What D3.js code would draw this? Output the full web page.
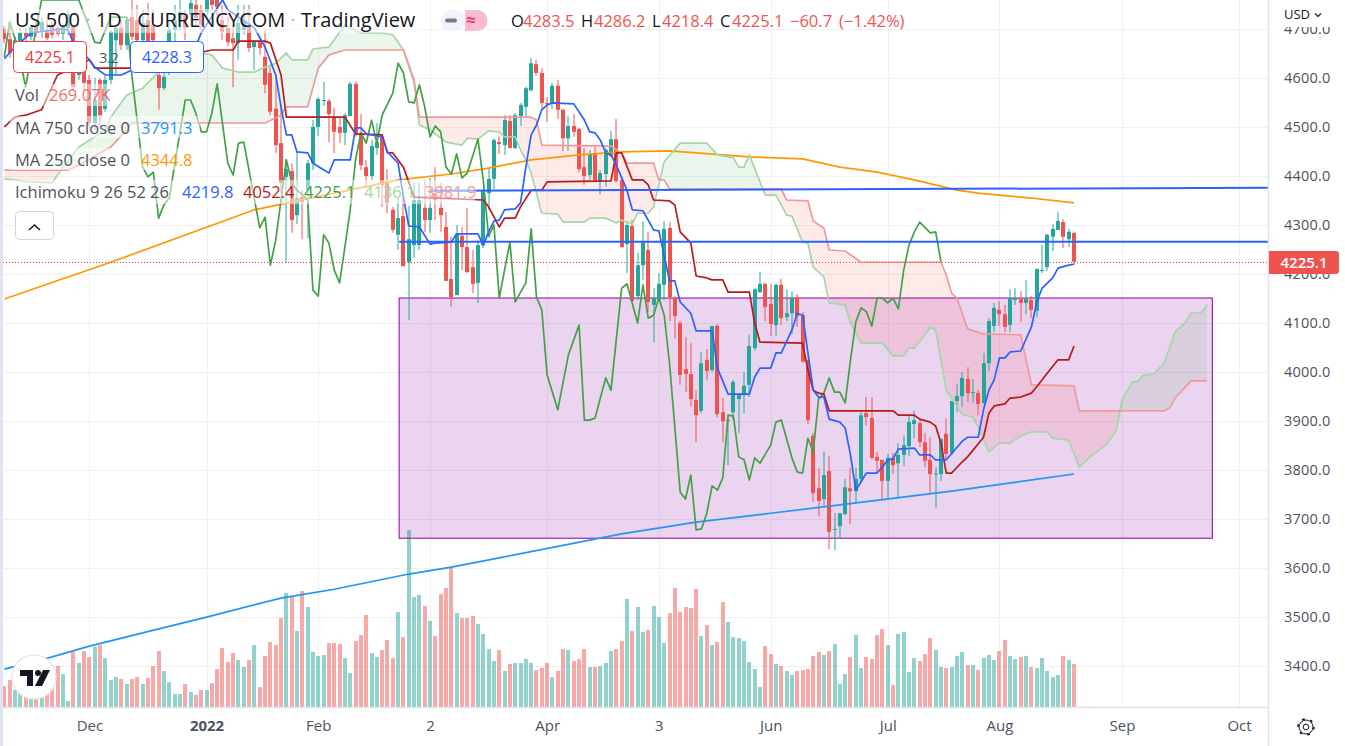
<!DOCTYPE html>
<html><head><meta charset="utf-8">
<script src="https://cdn.jsdelivr.net/npm/d3@7/dist/d3.min.js"></script>
<style>
html,body{margin:0;padding:0;background:#fff;overflow:hidden}
svg{display:block}
text{font-family:"Open Sans","Noto Sans",sans-serif}
</style></head><body>
<svg id="c" width="1345" height="746"></svg>
<script>
// ---- values ----
const candles=[
[4700,4706,4671,4679],[4679,4708,4641,4651],[4665,4684,4657,4677],[4673,4702,4665,4692],[4692,4702,4667,4684],[4684,4708,4677,4704],[4704,4714,4684,4692],[4694,4722,4681,4714],[4698,4718,4677,4681],[4708,4714,4681,4688],
[4702,4708,4686,4690],[4690,4708,4677,4704],[4702,4739,4688,4730],[4704,4708,4575,4582],[4606,4657,4596,4637],[4630,4647,4575,4590],[4596,4606,4500,4508],[4508,4600,4494,4555],[4596,4600,4504,4524],[4537,4604,4531,4596],
[4596,4698,4586,4694],[4677,4708,4606,4702],[4702,4718,4657,4667],[4667,4724,4657,4718],[4724,4759,4677,4684],[4718,4749,4647,4677],[4677,4739,4647,4712],[4718,4753,4647,4671],[4708,4739,4667,4677],[4606,4657,4535,4579],
[4579,4657,4575,4602],[4673,4718,4606,4698],[4698,4749,4667,4718],[4714,4759,4698,4735],[4728,4739,4677,4702],[4728,4769,4708,4753],[4749,4759,4708,4722],[4739,4749,4698,4708],[4735,4779,4718,4769],[4779,4790,4739,4749],
[4759,4769,4728,4745],[4718,4749,4677,4694],[4702,4728,4665,4673],[4681,4708,4581,4671],[4671,4749,4637,4712],[4698,4749,4688,4718],[4704,4749,4653,4661],[4663,4677,4616,4673],[4673,4681,4647,4661],[4643,4698,4569,4586],
[4610,4626,4524,4531],[4537,4602,4447,4463],[4467,4545,4365,4386],[4398,4435,4222,4414],[4410,4426,4284,4310],[4320,4449,4302,4355],[4357,4371,4271,4347],[4371,4433,4273,4426],[4426,4514,4412,4500],[4500,4561,4482,4557],
[4553,4592,4543,4555],[4553,4557,4469,4526],[4520,4539,4447,4490],[4500,4518,4467,4488],[4488,4528,4463,4524],[4522,4592,4522,4588],[4588,4592,4480,4484],[4488,4526,4412,4422],[4418,4433,4375,4400],[4400,4473,4392,4461],
[4457,4508,4443,4469],[4480,4484,4337,4382],[4386,4414,4324,4345],[4331,4337,4284,4290],[4280,4357,4249,4314],[4318,4365,4216,4216],[4224,4339,4106,4271],[4259,4386,4233,4351],[4259,4386,4249,4351],[4335,4392,4286,4310],
[4310,4396,4284,4335],[4365,4418,4310,4351],[4335,4386,4286,4320],[4296,4327,4186,4186],[4190,4276,4133,4153],[4157,4300,4157,4282],[4278,4296,4208,4255],[4255,4335,4202,4204],[4214,4249,4161,4180],[4182,4269,4141,4259],
[4259,4371,4253,4371],[4365,4416,4331,4394],[4394,4477,4373,4473],[4469,4482,4445,4465],[4463,4524,4443,4514],[4512,4524,4457,4457],[4457,4528,4455,4524],[4522,4549,4502,4545],[4541,4582,4520,4579],[4575,4641,4573,4630],
[4628,4637,4604,4610],[4610,4620,4535,4549],[4549,4561,4510,4547],[4547,4590,4537,4584],[4584,4596,4516,4535],[4535,4537,4451,4477],[4477,4522,4451,4502],[4502,4526,4480,4490],[4496,4498,4408,4414],[4418,4457,4382,4400],
[4402,4453,4392,4445],[4445,4459,4388,4392],[4388,4412,4363,4406],[4404,4457,4378,4453],[4441,4492,4439,4475],[4475,4516,4386,4390],[4392,4398,4253,4255],[4261,4304,4202,4300],[4298,4310,4143,4145],[4155,4243,4147,4218],
[4218,4308,4188,4265],[4249,4286,4123,4143],[4137,4171,4061,4151],[4147,4202,4147,4180],[4178,4308,4147,4292],[4294,4306,4104,4153],[4151,4155,4069,4114],[4100,4104,3974,3994],[4006,4071,3959,3996],[3996,4059,3929,3945],
[3943,3963,3857,3912],[3921,4041,3916,4018],[4025,4047,3984,4002],[4004,4094,4000,4094],[4094,4098,3908,3914],[3918,3947,3857,3900],[3900,3908,3810,3902],[3918,3984,3902,3980],[3945,3953,3876,3953],[3953,4000,3916,3972],
[3974,4076,3949,4053],[4049,4172,4043,4169],[4163,4204,4161,4180],[4180,4182,4104,4133],[4139,4180,4074,4098],[4096,4180,4074,4178],[4178,4190,4096,4110],[4112,4169,4104,4120],[4120,4165,4078,4151],[4153,4159,4092,4114],
[4116,4122,4020,4021],[4025,4025,3894,3902],[3870,3876,3735,3753],[3763,3804,3706,3737],[3741,3837,3727,3790],[3798,3829,3639,3674],[3678,3712,3637,3680],[3686,3712,3661,3712],[3710,3782,3708,3765],[3763,3804,3690,3757],
[3757,3804,3733,3782],[3782,3918,3774,3912],[3916,3949,3890,3908],[3906,3949,3821,3825],[3827,3837,3796,3819],[3821,3821,3739,3778],[3778,3833,3743,3825],[3825,3835,3792,3810],[3814,3855,3743,3831],[3831,3870,3808,3851],
[3849,3912,3829,3898],[3894,3921,3865,3902],[3896,3902,3847,3857],[3857,3876,3806,3819],[3821,3867,3751,3792],[3792,3806,3723,3793],[3792,3865,3778,3863],[3874,3906,3821,3833],[3835,3941,3831,3941],[3941,3976,3918,3951],
[3951,4000,3929,3988],[3986,4010,3939,3957],[3957,3986,3937,3959],[3957,3963,3912,3935],[3937,4039,3935,4018],[4018,4110,4002,4104],[4094,4141,4082,4131],[4127,4145,4094,4118],[4118,4137,4082,4092],[4096,4169,4082,4151],
[4147,4171,4137,4151],[4149,4165,4102,4141],[4141,4188,4118,4149],[4147,4155,4110,4127],[4125,4212,4112,4210],[4206,4259,4202,4208],[4214,4282,4206,4280],[4276,4302,4247,4292],[4290,4326,4290,4308],[4306,4312,4253,4276],
[4271,4292,4255,4286],[4283.5,4286.2,4218.4,4225.1]];
const volumes=[131,169,106,85,85,65,65,75,106,148,256,206,37,346,275,350,312,375,387,306,169,187,175,144,175,187,144,181,256,350,225,156,81,81,144,94,75,106,106,150,237,369,281,337,294,250,294,387,125,319,406,387,556,712,694,475,725,625,344,319,325,400,400,394,306,212,412,450,575,337,312,356,419,306,594,437,1106,687,700,631,537,444,706,744,875,587,556,556,569,519,456,362,287,356,
225,269,275,275,300,275,231,244,275,187,225,362,356,287,300,362,250,250,256,275,350,362,412,675,475,625,469,481,631,562,400,587,744,594,625,619,737,444,512,387,406,656,531,437,431,412,281,237,125,381,331,269,256,225,200,225,231,237,319,344,325,350,394,144,206,312,450,244,312,300,450,487,387,137,456,469,219,306,287,331,431,356,250,244,250,319,344,262,262,231,306,325,294,350,419,319,300,312,319,250,244,306,225,187,200,319,294,269];
const volumeDirs="RRTTRTRTRRRTTRTRRTRTTTRTRRTRRRTTTTRTRRTRRRRRTTRTRRRRRTRTRTTTTRRRTTRRRTTRRRTRTTTRTRRRRTRRRTTTTR".concat("TRTTTTRRRTRRTRRRTRTTTRRTRTTRTTTRRRRRRTRTRRTTTTTTTRRTRTTRRRRRTRTTTRTTRRRRTRTTTTRRRTTRTTTRTRTTTRRTTRTRTTTTTRTR").split("");
const tenkan=[[0,4639],[2,4663],[5,4692],[11,4700],[12,4698],[13,4671],[16,4637],[17,4622],[19,4606],[22,4606],[24,4616],[29,4626],[35,4637],[37,4692],[41,4759],[42,4739],[47,4702],[49,4663],[51,4606],[52,4541],[53,4484],[54,4484],[55,4449],[57,4447],[58,4426],[61,4406],[62,4433],[65,4433],[66,4498],[67,4498],[68,4486],[71,4480],[72,4449],[74,4426],[75,4357],[76,4298],[78,4296],[80,4261],[81,4263],[84,4265],[85,4282],[89,4282],[90,4259],[91,4286],[92,4308],[93,4310],[94,4331],[96,4333],[97,4345],[98,4418],[99,4484],[100,4504],[101,4535],[102,4545],[103,4549],[107,4547],[109,4514],[110,4490],[111,4488],[112,4473],[113,4447],[114,4443],[115,4422],[117,4371],[118,4331],[120,4329],[122,4290],[123,4288],[125,4186],[126,4186],[127,4143],[129,4120],[130,4084],[133,4084],[134,4008],[136,3955],[140,3955],[141,3990],[142,4008],[144,4008],[145,4039],[146,4039],[148,4086],[149,4120],[150,4116],[151,4039],[152,3963],[153,3949],[154,3949],[155,3904],[157,3898],[158,3886],[159,3831],[160,3759],[162,3794],[164,3794],[165,3806],[166,3821],[167,3823],[168,3843],[171,3845],[172,3831],[174,3831],[175,3821],[177,3821],[180,3859],[181,3867],[183,3867],[184,3923],[185,3963],[186,3984],[187,4029],[188,4029],[189,4041],[191,4043],[193,4092],[194,4143],[195,4171],[197,4192],[198,4212],[200,4218],[201,4220]];
const kijun=[[0,4500],[2,4520],[4,4524],[7,4535],[10,4606],[16,4637],[17,4620],[24,4620],[32,4641],[39,4657],[43,4657],[44,4675],[49,4675],[50,4671],[52,4606],[53,4520],[64,4520],[66,4486],[71,4484],[72,4447],[73,4447],[75,4418],[77,4357],[90,4351],[91,4337],[93,4296],[94,4314],[96,4314],[97,4337],[99,4371],[101,4371],[102,4388],[114,4390],[115,4447],[116,4447],[118,4392],[120,4392],[121,4382],[122,4351],[125,4349],[126,4341],[127,4286],[129,4263],[130,4196],[132,4192],[133,4188],[135,4188],[136,4163],[140,4163],[141,4100],[142,4061],[150,4059],[151,4004],[152,3963],[153,3957],[154,3955],[155,3921],[167,3921],[168,3912],[171,3912],[172,3904],[174,3898],[175,3890],[176,3855],[177,3794],[178,3794],[180,3817],[181,3827],[184,3867],[185,3916],[186,3931],[188,3935],[189,3947],[191,3949],[193,3957],[194,3970],[196,3998],[198,4025],[200,4025],[201,4053]];
const chikou=[[0,4643],[1,4714],[2,4681],[3,4637],[4,4581],[5,4643],[7,4759],[14,4759],[17,4673],[18,4671],[20,4724],[23,4724],[24,4602],[26,4418],[27,4398],[28,4408],[29,4314],[30,4341],[31,4355],[34,4555],[35,4555],[36,4528],[37,4490],[38,4490],[39,4528],[40,4588],[42,4426],[43,4402],[44,4467],[45,4469],[48,4294],[49,4316],[50,4218],[51,4269],[52,4351],[53,4433],[54,4386],[55,4371],[57,4351],[58,4167],[59,4155],[60,4280],[61,4263],[62,4208],[63,4182],[64,4255],[65,4331],[66,4433],[67,4488],[68,4467],[69,4514],[70,4467],[71,4524],[73,4569],[74,4630],[75,4610],[76,4551],[77,4549],[78,4586],[79,4541],[80,4480],[81,4502],[82,4490],[83,4418],[84,4404],[85,4445],[86,4396],[87,4406],[89,4475],[90,4392],[91,4276],[92,4300],[93,4151],[95,4265],[96,4143],[98,4182],[99,4292],[100,4153],[101,4127],[102,3994],[104,3923],[106,4035],[108,4096],[109,3902],[110,3902],[111,3906],[113,3988],[114,3963],[116,4171],[117,4180],[119,4100],[120,4178],[121,4110],[122,4116],[123,4151],[124,4116],[125,4018],[127,3755],[128,3741],[129,3790],[130,3678],[131,3680],[132,3712],[133,3768],[134,3759],[135,3784],[136,3912],[137,3910],[138,3827],[139,3821],[140,3780],[141,3825],[142,3814],[144,3851],[145,3898],[146,3902],[148,3825],[149,3796],[150,3794],[151,3865],[152,3837],[153,3945],[154,3957],[155,3988],[156,3959],[157,3959],[158,3937],[159,4025],[160,4102],[161,4131],[162,4123],[163,4094],[164,4151],[165,4151],[166,4141],[167,4151],[168,4129],[169,4208],[170,4259],[171,4286],[172,4306],[174,4284],[175,4286],[176,4225]];
const spanA=[[0,4394],[5,4388],[9,4386],[11,4418],[14,4459],[19,4494],[20,4520],[23,4565],[26,4579],[29,4612],[37,4651],[39,4647],[41,4620],[44,4612],[47,4612],[49,4622],[51,4630],[53,4651],[54,4637],[57,4637],[58,4659],[61,4663],[64,4708],[67,4692],[71,4692],[73,4688],[75,4657],[77,4590],[78,4504],[80,4494],[83,4469],[86,4463],[87,4477],[89,4475],[91,4492],[93,4490],[94,4480],[96,4480],[97,4453],[98,4433],[99,4406],[100,4365],[101,4324],[104,4322],[105,4306],[109,4306],[110,4314],[113,4314],[115,4304],[116,4310],[118,4302],[119,4324],[121,4324],[122,4337],[124,4429],[127,4467],[132,4467],[134,4443],[137,4437],[138,4418],[139,4418],[140,4443],[143,4361],[145,4361],[147,4320],[148,4318],[150,4265],[151,4263],[152,4214],[154,4194],[155,4141],[158,4137],[159,4100],[161,4059],[165,4059],[167,4033],[169,4033],[170,4049],[171,4049],[173,4076],[174,4092],[175,4086],[177,3963],[180,3914],[182,3908],[183,3888],[185,3837],[187,3855],[189,3855],[191,3870],[193,3878],[196,3878],[197,3865],[200,3861],[202,3806],[204,3827],[207,3851],[209,3882],[210,3943],[212,3980],[213,3980],[214,3994],[216,3996],[218,4020],[220,4082],[222,4102],[223,4120],[225,4122],[226,4137]];
const spanB=[[0,4412],[12,4412],[14,4422],[20,4459],[23,4494],[24,4508],[49,4508],[52,4524],[53,4541],[57,4541],[59,4620],[61,4647],[64,4657],[75,4657],[77,4596],[78,4520],[99,4520],[100,4514],[101,4463],[114,4461],[116,4447],[117,4426],[122,4426],[123,4392],[124,4392],[125,4373],[146,4373],[147,4351],[151,4349],[152,4308],[154,4294],[155,4249],[158,4247],[161,4224],[176,4224],[177,4198],[178,4161],[179,4151],[181,4088],[184,4078],[191,4076],[193,3974],[201,3972],[202,3921],[218,3921],[219,3927],[220,3947],[223,3982],[226,3982]];
const ma250=[[0,4149],[20,4224],[47,4331],[74,4392],[84,4404],[91,4416],[99,4433],[108,4443],[116,4449],[125,4451],[140,4439],[150,4435],[157,4418],[164,4408],[171,4392],[179,4371],[183,4365],[193,4355],[201,4345]];
const ma750=[[0,3394],[9,3419],[16,3441],[26,3468],[38,3500],[52,3539],[62,3557],[76,3588],[84,3602],[93,3621],[116,3670],[130,3694],[144,3712],[157,3729],[178,3757],[201,3792]];
const priceTicks=[3400,3500,3600,3700,3800,3900,4000,4100,4200,4300,4400,4500,4600,4700];
const timeTickBars=[16,38,59,80,102,123,144,166,187,210,232];
const timeTickLabels=["Dec","2022","Feb","2","Apr","3","Jun","Jul","Aug","Sep","Oct"];
const zoneBars=[74.2,227];            // purple rectangle: time extent
const zonePrices=[4151,3661];         // purple rectangle: price extent
const trendUpper=[[80,4370],[238,4376]];
const trendLower=[[74.2,4266],[238,4266]];
const lastPrice=4225.1;

// ---- scales ----
const W=1345,H=746,axisX=1268,baseY=707;
const x=d3.scaleLinear().domain([0,201]).range([4.3,1074]);
const y=d3.scaleLinear().domain([3400,4700]).range([666.2,28.9]);
const v=d3.scaleLinear().domain([0,1106]).range([baseY,530]);
const UP="#26a69a",DN="#ef5350",GRID="#eff0f3",EDGE="#e0e3eb";
const svg=d3.select("#c");
svg.append("defs").append("clipPath").attr("id","plot").append("rect").attr("x",3).attr("y",0).attr("width",axisX-3).attr("height",baseY);
const root=svg.append("g");
const plot=root.append("g").attr("clip-path","url(#plot)");

// grid
plot.append("g").selectAll("line").data(priceTicks).join("line")
 .attr("x1",3).attr("x2",axisX).attr("y1",d=>Math.round(y(d))+.5).attr("y2",d=>Math.round(y(d))+.5).attr("stroke",GRID);
plot.append("g").selectAll("line").data(timeTickBars).join("line")
 .attr("y1",0).attr("y2",baseY).attr("x1",d=>Math.round(x(d))+.5).attr("x2",d=>Math.round(x(d))+.5).attr("stroke",GRID);

// volume
plot.append("g").selectAll("rect").data(volumes).join("rect")
 .attr("x",(d,i)=>Math.round(x(i))-2).attr("width",4)
 .attr("y",d=>v(d)).attr("height",d=>baseY-v(d))
 .attr("fill",(d,i)=>volumeDirs[i]==="T"?UP:DN).attr("fill-opacity",.5);

// purple zone
plot.append("rect")
 .attr("x",x(zoneBars[0])).attr("width",x(zoneBars[1])-x(zoneBars[0]))
 .attr("y",y(zonePrices[0])).attr("height",y(zonePrices[1])-y(zonePrices[0]))
 .attr("fill","#9c27b0").attr("fill-opacity",.2).attr("stroke","#9c27b0").attr("stroke-width",1.2);

// cloud
const fA=d3.scaleLinear().domain(spanA.map(d=>d[0])).range(spanA.map(d=>d[1]));
const fB=d3.scaleLinear().domain(spanB.map(d=>d[0])).range(spanB.map(d=>d[1]));
const bars=d3.range(0,226.01,.25);
plot.append("path").datum(bars).attr("fill","#43a047").attr("fill-opacity",.11)
 .attr("d",d3.area().x(d=>x(d)).y0(d=>y(fB(d))).y1(d=>y(Math.max(fA(d),fB(d)))));
plot.append("path").datum(bars).attr("fill","#f44336").attr("fill-opacity",.11)
 .attr("d",d3.area().x(d=>x(d)).y0(d=>y(fB(d))).y1(d=>y(Math.min(fA(d),fB(d)))));

// candles
const cg=plot.append("g");
cg.selectAll("line").data(candles).join("line")
 .attr("x1",(d,i)=>Math.round(x(i))).attr("x2",(d,i)=>Math.round(x(i)))
 .attr("y1",d=>y(d[1])).attr("y2",d=>y(d[2])).attr("stroke",d=>d[3]>=d[0]?UP:DN).attr("stroke-width",1);
cg.selectAll("rect").data(candles).join("rect")
 .attr("x",(d,i)=>Math.round(x(i))-2).attr("width",4)
 .attr("y",d=>y(Math.max(d[0],d[3]))).attr("height",d=>Math.max(1,Math.abs(y(d[0])-y(d[3]))))
 .attr("fill",d=>d[3]>=d[0]?UP:DN);

// lines
const line=d3.line().x(d=>x(d[0])).y(d=>y(d[1]));
const lines=[[ma750,"#2196f3",1.7],[ma250,"#ff9800",1.7],[spanA,"#a5d6a7",1.7],[spanB,"#ef9a9a",1.7],[chikou,"#43a047",1.7],[kijun,"#b71c1c",1.7],[tenkan,"#2962ff",1.7]];
plot.append("g").selectAll("path").data(lines).join("path")
 .attr("d",d=>line(d[0])).attr("fill","none").attr("stroke",d=>d[1]).attr("stroke-width",d=>d[2]).attr("stroke-linejoin","round");
plot.append("g").selectAll("path").data([trendUpper,trendLower]).join("path")
 .attr("d",line).attr("fill","none").attr("stroke","#2962ff").attr("stroke-width",2);
const lastY=Math.round(y(lastPrice))+.5;
plot.append("line").attr("x1",3).attr("x2",axisX).attr("y1",lastY).attr("y2",lastY)
 .attr("stroke","#f23645").attr("stroke-width",1).attr("stroke-dasharray","1 2");

// frame
root.append("rect").attr("x",0).attr("y",0).attr("width",3).attr("height",H).attr("fill","#e0e3f0");
root.append("line").attr("x1",3).attr("x2",axisX).attr("y1",baseY+.5).attr("y2",baseY+.5).attr("stroke",EDGE).attr("stroke-width",1.5);
root.append("line").attr("x1",axisX+.5).attr("x2",axisX+.5).attr("y1",0).attr("y2",H).attr("stroke",EDGE).attr("stroke-width",1.5);

// axes
const yAxis=root.append("g").attr("transform",`translate(${axisX},0)`)
 .call(d3.axisRight(y).tickValues(priceTicks).tickFormat(d3.format(".1f")).tickSize(0).tickPadding(16));
yAxis.select(".domain").remove();
yAxis.selectAll("text").attr("fill","#4c525e").attr("font-size",14.5).style("letter-spacing",".2px");
root.append("rect").attr("x",axisX+2).attr("y",0).attr("width",W-axisX-2).attr("height",27).attr("fill","#fff");
const xAxis=root.append("g").attr("transform",`translate(0,${baseY})`)
 .call(d3.axisBottom(x).tickValues(timeTickBars).tickFormat((d,i)=>timeTickLabels[i]).tickSize(0).tickPadding(13));
xAxis.select(".domain").remove();
xAxis.selectAll("text").attr("fill","#4c525e").attr("font-size",15)
 .attr("font-weight",d=>d===38?700:400);

// last price tag
root.append("path").attr("d","M1269 251H1336a3 3 0 0 1 3 3V271a3 3 0 0 1-3 3H1269Z").attr("fill",DN);
root.append("text").attr("x",1304).attr("y",268).attr("text-anchor","middle").attr("fill","#fff")
 .attr("font-size",15).attr("font-weight",600).text(lastPrice.toFixed(1));

// legend backgrounds
const bgRows=[[4,9,418,24],[10,84,105,22],[10,116,190,22],[10,148,190,22],[10,180,465,24]];
root.append("g").selectAll("rect").data(bgRows).join("rect")
 .attr("x",d=>d[0]).attr("y",d=>d[1]).attr("width",d=>d[2]).attr("height",d=>d[3]).attr("fill","#fff").attr("fill-opacity",.5);

function txt(xp,yp,s,fill,size,weight){
 return root.append("text").attr("x",xp).attr("y",yp).attr("fill",fill).attr("font-size",size).attr("font-weight",weight||400).text(s);
}
// title
const t=root.append("text").attr("x",15).attr("y",27).attr("font-size",20).attr("fill","#131722");
[["US 500","#131722"],[" · ","#b2b5be"],["1D","#131722"],[" · ","#b2b5be"],["CURRENCYCOM","#131722"],[" · ","#b2b5be"],["TradingView","#131722"]]
 .forEach(p=>t.append("tspan").attr("fill",p[1]).text(p[0]));

// ohlc
const ohlcRow=[[511,"O","#131722"],[523,"4283.5",DN],[581,"H","#131722"],[594,"4286.2",DN],[652,"L","#131722"],[662,"4218.4",DN],[720,"C","#131722"],[732,"4225.1",DN],[790,"−60.7",DN],[839,"(−1.42%)",DN]];
ohlcRow.forEach(r=>txt(r[0],27,r[1],r[2],16.5));

// toggle pills
root.append("rect").attr("x",441).attr("y",10).attr("width",24).attr("height",21).attr("rx",10).attr("fill","#f0f3fa");
root.append("path").attr("d","M465 10h12a10.500 10.500 0 0 1 0 21h-12Z").attr("fill","#f8bbd0");
root.append("rect").attr("x",445).attr("y",18.5).attr("width",12).attr("height",4).attr("rx",2).attr("fill","#787b86");
txt(466,26,"≈","#ec407a",17,700);

// USD
txt(1284,19,"USD","#131722",13);
root.append("path").attr("d","M1315 13.500l3 3 3-3").attr("fill","none").attr("stroke","#131722").attr("stroke-width",1.2);

// value boxes
root.append("rect").attr("x",13.5).attr("y",41.5).attr("width",73).attr("height",31).attr("rx",4).attr("fill","#fff").attr("stroke","#f23645");
root.append("rect").attr("x",130.5).attr("y",41.5).attr("width",73).attr("height",31).attr("rx",4).attr("fill","#fff").attr("stroke","#2962ff");
txt(50,63,"4225.1","#f23645",16).attr("text-anchor","middle");
txt(109,63,"3.2","#50535e",14).attr("text-anchor","middle");
txt(167,63,"4228.3","#2962ff",16).attr("text-anchor","middle");

// legend rows
const GR="#4c525e";
txt(15,101,"Vol",GR,16.5); txt(49,101,"269.07K","#ef5350",16.5).attr("fill-opacity",.85);
txt(15,134,"MA 750 close 0",GR,16.5); txt(141,134,"3791.3","#2196f3",16.5);
txt(15,166,"MA 250 close 0",GR,16.5); txt(141,166,"4344.8","#ff9800",16.5);
txt(15,198,"Ichimoku 9 26 52 26",GR,16.5);
[[182,"4219.8","#2962ff"],[243,"4052.4","#b71c1c"],[304,"4225.1","#43a047"],[364,"4136.1","#a5d6a7"],[425,"3981.9","#ef9a9a"]]
 .forEach(r=>txt(r[0],198,r[1],r[2],16.5));

// collapse button
root.append("rect").attr("x",15.5).attr("y",211.5).attr("width",38).attr("height",28).attr("rx",4).attr("fill","#fff").attr("stroke","#d1d4dc");
root.append("path").attr("d","M29 230l5.500-5 5.500 5").attr("fill","none").attr("stroke","#131722").attr("stroke-width",1.6);

// logo
root.append("circle").attr("cx",34).attr("cy",677).attr("r",22).attr("fill","#fff").attr("stroke","#e8e8ea").attr("stroke-width",1.5);
root.append("path").attr("d","M20 670H33V686H27V676H20ZM43 670H50L42 686H35Z").attr("fill","#131722");
root.append("circle").attr("cx",38).attr("cy",673).attr("r",3).attr("fill","#131722");

// gear
const gear=root.append("g").attr("transform","translate(1306,727)");
gear.append("circle").attr("r",7).attr("fill","none").attr("stroke","#131722").attr("stroke-width",1);
gear.append("circle").attr("r",2.8).attr("fill","none").attr("stroke","#131722").attr("stroke-width",1);
gear.append("circle").attr("r",8).attr("fill","none").attr("stroke","#131722").attr("stroke-width",1.6).attr("stroke-dasharray","2.6 5.78");
</script>
</body></html>
